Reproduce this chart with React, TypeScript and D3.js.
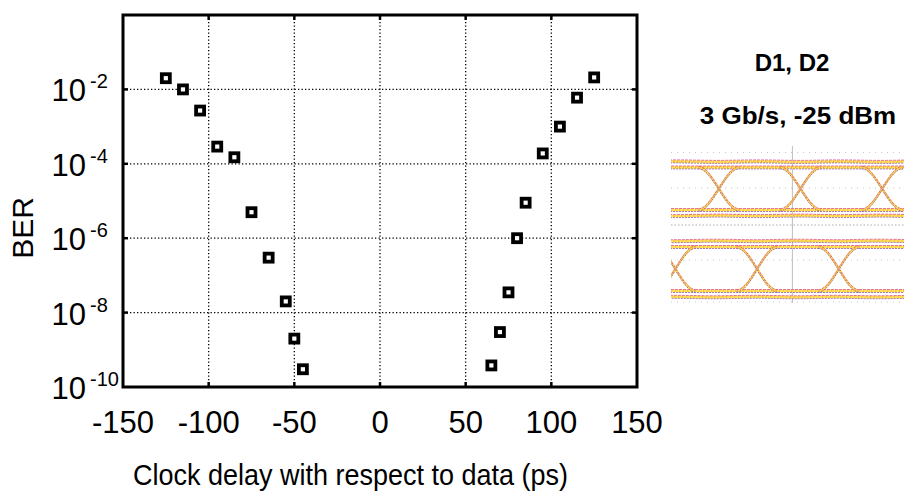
import React from 'react';
import * as d3 from 'd3';

// ---- main chart data ----
const leftDelay = [-125, -115, -105, -95, -85, -75, -65, -55, -50, -45];
const leftBER = [2e-2, 1e-2, 2.7e-3, 2.9e-4, 1.5e-4, 5e-6, 3e-7, 2e-8, 2e-9, 3e-10];
const rightDelay = [125, 115, 105, 95, 85, 80, 75, 70, 65];
const rightBER = [2.1e-2, 6e-3, 1e-3, 1.9e-4, 9e-6, 1e-6, 3.5e-8, 3e-9, 3.8e-10];

const xTicks = [-150, -100, -50, 0, 50, 100, 150];
const xGrid = [-100, -50, 0, 50, 100];
const yTickExps = [-2, -4, -6, -8, -10];
const yGrid = [1e-2, 1e-4, 1e-6, 1e-8];

const xTitle = 'Clock delay with respect to data (ps)';
const yTitle = 'BER';

// ---- eye-diagram inset ----
const eyeTitle = 'D1, D2';
const eyeSubtitle = '3 Gb/s, -25 dBm';
const eyeCrossTop = [-300, 33, 366];        // ps
const eyeCrossBottom = [-477, -144, 189];   // ps
const eyeRails = [0, 1];
const eyeOuterRails = [-0.12, 1.12];

const FONT = "'Liberation Sans', Arial, Helvetica, sans-serif";

export default function App() {
  const W = 904, H = 494;
  const x = d3.scaleLinear().domain([-150, 150]).range([123, 637]);
  const y = d3.scaleLog().domain([1e-10, 1]).range([387, 15]);
  const [x0, x1] = x.range();
  const [yb, yt] = y.range();

  const pts = [
    ...leftDelay.map((d, i) => ({ d, b: leftBER[i] })),
    ...rightDelay.map((d, i) => ({ d, b: rightBER[i] })),
  ];

  // eye inset scales
  const tx = d3.scaleLinear().domain([-495, 455]).range([671, 904]);
  const panels = [
    { cross: eyeCrossTop, ay: d3.scaleLinear().domain([-0.15, 1.15]).range([216.4, 161.1]) },
    { cross: eyeCrossBottom, ay: d3.scaleLinear().domain([-0.15, 1.15]).range([297.6, 240.4]) },
  ];
  const half = 84, ctrl = 58, period = 333;

  const transPaths: string[] = [];
  const railPaths: string[] = [];
  panels.forEach(({ cross, ay }) => {
    cross.forEach((c) => {
      [[1, 0], [0, 1]].forEach(([a, b]) => {
        const p = d3.path();
        p.moveTo(tx(c - half), ay(a));
        p.bezierCurveTo(tx(c - half + ctrl), ay(a), tx(c + half - ctrl), ay(b), tx(c + half), ay(b));
        transPaths.push(p.toString());
      });
    });
    eyeRails.forEach((r) => {
      const p = d3.path();
      p.moveTo(tx(-560), ay(r));
      p.lineTo(tx(520), ay(r));
      railPaths.push(p.toString());
    });
    eyeOuterRails.forEach((r) => {
      const dir = r > 0.5 ? 1 : -1;
      const ptsO: [number, number][] = [];
      const first = cross[0] - period;
      for (let k = 0; k < cross.length + 2; k++) {
        const c = first + k * period;
        ptsO.push([tx(c), ay(r)]);
        ptsO.push([tx(c + period * 0.45), ay(r + dir * 0.035)]);
      }
      railPaths.push(d3.line().curve(d3.curveBasis)(ptsO) || '');
    });
  });

  const traceLayers = (d: string, key: string, w: number) => (
    <g key={key}>
      <path d={d} fill="none" stroke="#ffe040" strokeWidth={w} opacity={0.9} />
      <path d={d} fill="none" stroke="#ff9040" strokeWidth={0.9} strokeDasharray="1 3" opacity={0.9} />
      <path d={d} fill="none" stroke="#d8409e" strokeWidth={0.9} opacity={0.8} strokeDasharray="3 1" transform={`translate(0,${-w / 2})`} />
      <path d={d} fill="none" stroke="#7c4cd0" strokeWidth={0.9} opacity={0.8} strokeDasharray="2 1" transform={`translate(0,${w / 2})`} />
    </g>
  );

  return (
    <svg width={W} height={H} style={{ position: 'absolute', left: 0, top: 0, background: '#fff' }} fontFamily={FONT}>
      {/* grid */}
      {xGrid.map((v) => (
        <line key={'gx' + v} x1={x(v)} x2={x(v)} y1={yt} y2={yb} stroke="#000" strokeWidth={1.3} strokeDasharray="1.3 2.2" />
      ))}
      {yGrid.map((v) => (
        <line key={'gy' + v} x1={x0} x2={x1} y1={y(v)} y2={y(v)} stroke="#000" strokeWidth={1.3} strokeDasharray="1.3 2.2" />
      ))}
      {/* ticks */}
      {xGrid.map((v) => (
        <g key={'tx' + v}>
          <line x1={x(v)} x2={x(v)} y1={yt} y2={yt + 5} stroke="#000" strokeWidth={2.5} />
          <line x1={x(v)} x2={x(v)} y1={yb} y2={yb - 5} stroke="#000" strokeWidth={2.5} />
        </g>
      ))}
      {yGrid.map((v) => (
        <g key={'ty' + v}>
          <line x1={x0} x2={x0 + 5} y1={y(v)} y2={y(v)} stroke="#000" strokeWidth={2.5} />
          <line x1={x1} x2={x1 - 5} y1={y(v)} y2={y(v)} stroke="#000" strokeWidth={2.5} />
        </g>
      ))}
      {/* frame */}
      <rect x={x0} y={yt} width={x1 - x0} height={yb - yt} fill="none" stroke="#000" strokeWidth={3} />
      {/* markers */}
      {pts.map((p, i) => (
        <rect key={'m' + i} x={x(p.d) - 4} y={y(p.b) - 4} width={8} height={8} fill="#fff" stroke="#000" strokeWidth={3.8} />
      ))}
      {/* x tick labels */}
      {xTicks.map((v) => (
        <text key={'xl' + v} x={x(v)} y={433} fontSize={31} textAnchor="middle" fill="#000">{v}</text>
      ))}
      {/* y tick labels */}
      {yTickExps.map((e) => (
        <text key={'yl' + e} x={51.5} y={y(Math.pow(10, e)) + 12} fontSize={31} fill="#000">
          10<tspan fontSize={20} dx={4} dy={-13}>{e}</tspan>
        </text>
      ))}
      {/* axis titles */}
      <text x={133} y={485} fontSize={27} fill="#000"
        transform="translate(0,485) scale(1,1.08) translate(0,-485)">{xTitle}</text>
      <text transform="translate(33,228) rotate(-90)" fontSize={30} textAnchor="middle" fill="#000">{yTitle}</text>

      {/* inset labels */}
      <text x={792} y={71} fontSize={24} fontWeight="bold" textAnchor="middle" fill="#000">{eyeTitle}</text>
      <text x={798} y={124} fontSize={26} fontWeight="bold" textAnchor="middle" fill="#000"
        transform="translate(0,124) scale(1,0.9) translate(0,-124)">{eyeSubtitle}</text>

      {/* inset eye diagrams */}
      <defs>
        <clipPath id="eyeclip">
          <rect x={671} y={144} width={233} height={162} />
        </clipPath>
      </defs>
      <g clipPath="url(#eyeclip)">
        {[152.5, 188, 260, 302].map((yy, i) => (
          <line key={'eg' + i} x1={671} x2={904} y1={yy} y2={yy} stroke="#c8c8c8" strokeWidth={1} strokeDasharray="1 5" />
        ))}
        <line x1={671} x2={904} y1={225} y2={225} stroke="#c8c8c8" strokeWidth={1.5} strokeDasharray="1.5 2" />
        <line x1={tx(0)} x2={tx(0)} y1={146} y2={303} stroke="#bdbdbd" strokeWidth={1} />
        {railPaths.map((d, i) => traceLayers(d, 'r' + i, 3))}
        {transPaths.map((d, i) => traceLayers(d, 't' + i, 2.4))}
      </g>
    </svg>
  );
}
